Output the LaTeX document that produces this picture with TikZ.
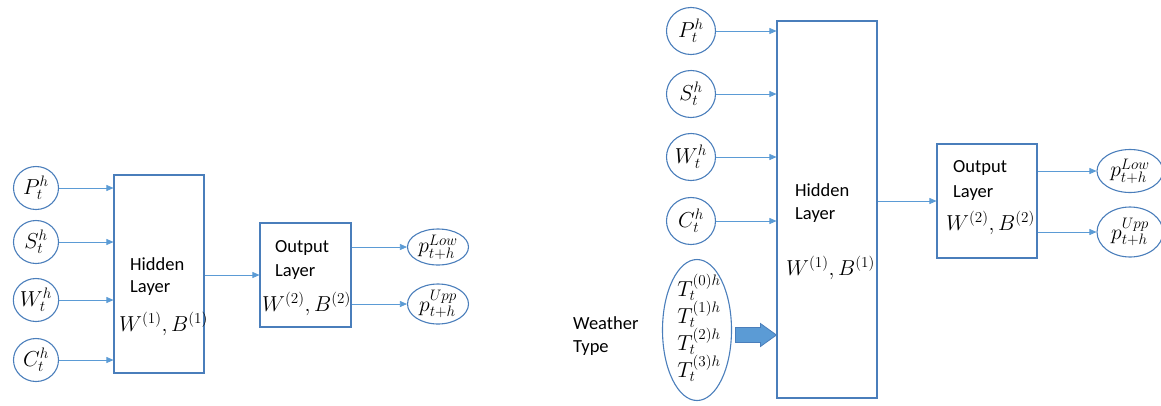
\RequirePackage{fix-cm}
\documentclass[tikz,border=0pt]{standalone}
\usepackage{graphicx}
\usepackage{fontspec}
\setmainfont{Carlito}
\usetikzlibrary{shapes.geometric,arrows.meta}
\definecolor{edge}{HTML}{4A7EBB}
\definecolor{link}{HTML}{5B9BD5}
% enlarged inline formula
\newcommand{\mlabel}[1]{\scalebox{1.17}{$#1$}}
\begin{document}
\begin{tikzpicture}[x=1pt,y=-1pt,font=\fontsize{18.5}{22}\selectfont,
  inp/.style={ellipse,draw=edge,line width=1.1pt,inner sep=0pt},
  layer/.style={rectangle,draw=edge,line width=1.1pt,inner sep=0pt},
  feed/.style={draw=link,line width=0.7pt,-{Triangle[length=7pt,width=6pt]}},
  lbl/.style={inner sep=0pt,anchor=west},
  bigarrow/.style={fill=link,draw=edge,line width=0.8pt,line join=miter},
]
\useasboundingbox (0,0) rectangle (1161,405);

% ---- small network ----
\node[inp,minimum width=45pt,minimum height=43pt] (p1) at (36,188) {\mlabel{P_t^h}};
\node[inp,minimum width=45pt,minimum height=43pt] (s1) at (36,242) {\mlabel{S_t^h}};
\node[inp,minimum width=45pt,minimum height=43pt] (w1) at (36,300) {\mlabel{W_t^h}};
\node[inp,minimum width=45pt,minimum height=43pt] (c1) at (36,360) {\mlabel{C_t^h}};

\node[layer,minimum width=90pt,minimum height=198pt] (hid1) at (159,274) {};
\node[lbl] (hid1a) at (130,264) {Hidden};
\node[lbl] (hid1b) at (130,288) {Layer};
\node[lbl] (hid1c) at (119,324) {\mlabel{W^{(1)},B^{(1)}}};

\node[layer,minimum width=91pt,minimum height=104pt] (out1) at (305.5,275) {};
\node[lbl] (out1a) at (275,248) {Output};
\node[lbl] (out1b) at (275,272) {Layer};
\node[lbl] (out1c) at (262,304) {\mlabel{W^{(2)},B^{(2)}}};

\node[inp,minimum width=61pt,minimum height=36pt] (lo1) at (438,247) {\mlabel{p_{t+h}^{Low}}};
\node[inp,minimum width=61pt,minimum height=40pt] (up1) at (438,304) {\mlabel{p_{t+h}^{Upp}}};

\foreach \n in {p1,s1,w1,c1}
  \draw[feed] (\n.east) -- (\n.east -| hid1.west);
\draw[feed] (hid1.east |- out1.west) -- (out1.west);
\draw[feed] (lo1.west -| out1.east) -- (lo1.west);
\draw[feed] (up1.west -| out1.east) -- (up1.west);

% ---- network with weather types ----
\node[inp,minimum width=49pt,minimum height=47pt] (p2) at (691,31) {\mlabel{P_t^h}};
\node[inp,minimum width=49pt,minimum height=47pt] (s2) at (691,94) {\mlabel{S_t^h}};
\node[inp,minimum width=49pt,minimum height=47pt] (w2) at (691,157) {\mlabel{W_t^h}};
\node[inp,minimum width=49pt,minimum height=47pt] (c2) at (691,221) {\mlabel{C_t^h}};

\node[inp,minimum width=69pt,minimum height=141pt] (wt) at (697,330) {};
\node[inner sep=0pt] (t0) at (699,287) {\mlabel{T_t^{(0)h}}};
\node[inner sep=0pt] (t1) at (699,314) {\mlabel{T_t^{(1)h}}};
\node[inner sep=0pt] (t2) at (699,341) {\mlabel{T_t^{(2)h}}};
\node[inner sep=0pt] (t3) at (699,368) {\mlabel{T_t^{(3)h}}};
\node[lbl] (wa) at (573,323) {Weather};
\node[lbl] (wb) at (573,348) {Type};

\node[layer,minimum width=100pt,minimum height=377pt] (hid2) at (827,209.5) {};
\node[lbl] (hid2a) at (795,190) {Hidden};
\node[lbl] (hid2b) at (795,215) {Layer};
\node[lbl] (hid2c) at (786,268) {\mlabel{W^{(1)},B^{(1)}}};

\node[layer,minimum width=100pt,minimum height=114pt] (out2) at (987,201) {};
\node[lbl] (out2a) at (953,168) {Output};
\node[lbl] (out2b) at (953,193) {Layer};
\node[lbl] (out2c) at (946,223) {\mlabel{W^{(2)},B^{(2)}}};

\node[inp,minimum width=66pt,minimum height=43pt] (lo2) at (1130,171) {\mlabel{p_{t+h}^{Low}}};
\node[inp,minimum width=66pt,minimum height=50pt] (up2) at (1130,232) {\mlabel{p_{t+h}^{Upp}}};

\foreach \n in {p2,s2,w2,c2}
  \draw[feed] (\n.east) -- (\n.east -| hid2.west);
\draw[feed] (hid2.east |- out2.west) -- (out2.west);
\draw[feed] (lo2.west -| out2.east) -- (lo2.west);
\draw[feed] (up2.west -| out2.east) -- (up2.west);

% block arrow from the weather types into the hidden layer
\coordinate (wtip) at (hid2.west |- 0,335);
\draw[bigarrow] (wtip) -- ++(-16,-11.5) -- ++(0,4) -- ++(-25,0) -- ++(0,15)
  -- ++(25,0) -- ++(0,4) -- cycle;
\end{tikzpicture}
\end{document}
